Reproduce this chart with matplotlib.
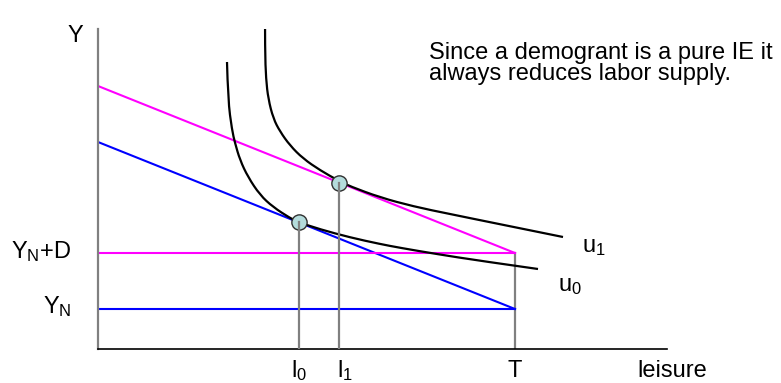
import matplotlib.pyplot as plt
import numpy as np
from matplotlib.path import Path
from matplotlib.patches import PathPatch

plt.rcParams['font.family'] = ['Liberation Sans', 'DejaVu Sans']
plt.rcParams['mathtext.fontset'] = 'custom'
plt.rcParams['mathtext.rm'] = 'Liberation Sans'
plt.rcParams['mathtext.it'] = 'Liberation Sans'

# budget constraint (units = leisure / income)
T = 417
y_n = 40
demogrant = 56
full_income = 207        # intercept of the original budget line
l0 = 201
l1 = 241

# indifference curves
u0_x = [129, 130, 134, 137, 142, 150, 162, 175, 192, 200, 222, 252, 282, 302, 339, 382, 440]
u0_y = [287, 249, 219, 206, 189, 172, 154, 142, 131, 127, 119.7, 111.6, 105, 101.2, 94.9, 88.2, 80]
u1_x = [167, 167, 168, 170.3, 175.3, 182, 192, 205, 222, 241, 252, 282, 315, 352, 465]
u1_y = [336, 299, 270, 250, 230.5, 217.5, 203.5, 190.5, 178.8, 168, 162.7, 151.6, 142.7, 134.9, 112]


def smooth_path(xs, ys):
    # quadratic segments through the midpoints, the read points act as control points
    pts = list(zip(xs, ys))
    verts = [pts[0]]
    codes = [Path.MOVETO]
    n = len(pts)
    for i in range(1, n - 1):
        if i < n - 2:
            end = ((pts[i][0] + pts[i + 1][0]) / 2, (pts[i][1] + pts[i + 1][1]) / 2)
        else:
            end = pts[-1]
        verts += [pts[i], end]
        codes += [Path.CURVE3, Path.CURVE3]
    return Path(verts, codes)


fig = plt.figure(figsize=(7.81, 3.83), dpi=100)
ax = fig.add_axes([98 / 781, 34 / 383, 569 / 781, 320 / 383])
ax.set_xlim(0, 569)
ax.set_ylim(0, 320)
for s in ['top', 'right']:
    ax.spines[s].set_visible(False)
ax.spines['left'].set_color('#808080')
ax.spines['left'].set_linewidth(1.6)
ax.spines['bottom'].set_color('black')
ax.spines['bottom'].set_linewidth(1.2)
ax.set_xticks([])
ax.set_yticks([])

# budget lines
bx = [0, T]
blue_y = [full_income, y_n]
mag_y = [full_income + demogrant, y_n + demogrant]
ax.plot(bx, blue_y, color='#0000ff', lw=1.5, zorder=2)
ax.plot(bx, [y_n, y_n], color='#0000ff', lw=1.5, zorder=2)
ax.plot(bx, mag_y, color='#ff00ff', lw=1.5, zorder=2)
ax.plot(bx, [y_n + demogrant, y_n + demogrant], color='#ff00ff', lw=1.5, zorder=2)

# indifference curves
for xs, ys in [(u0_x, u0_y), (u1_x, u1_y)]:
    ax.add_patch(PathPatch(smooth_path(xs, ys), fill=False, ec='black', lw=1.6,
                           capstyle='butt', zorder=3))

# optimum points
p0 = np.interp(l0, bx, blue_y)
p1 = np.interp(l1, bx, mag_y)
ax.plot([l0, l1], [p0, p1], 'o', ms=11, mfc='#b4dcdc', mec='#303030', mew=1, zorder=4)
ax.plot([l0, l0], [0, p0], color='#808080', lw=1.6, zorder=5)
ax.plot([l1, l1], [0, p1], color='#808080', lw=1.6, zorder=5)
ax.plot([T, T], [0, y_n + demogrant], color='#808080', lw=1.6, zorder=1)

fs = 17
ax.text(-23, 307, 'Y', fontsize=fs, ha='center', va='baseline')
ax.text(-27, 91, r'$Y_N$+D', fontsize=fs, ha='right', va='baseline')
ax.text(-27, 36, r'$Y_N$', fontsize=fs, ha='right', va='baseline')
ax.text(l0, -28, r'$l_0$', fontsize=fs, ha='center', va='baseline')
ax.text(l1 + 6, -28, r'$l_1$', fontsize=fs, ha='center', va='baseline')
ax.text(T, -28, 'T', fontsize=fs, ha='center', va='baseline')
ax.text(539, -28, 'leisure', fontsize=fs, ha='left', va='baseline')
ax.text(484, 97, r'$u_1$', fontsize=fs, ha='left', va='baseline')
ax.text(460, 58, r'$u_0$', fontsize=fs, ha='left', va='baseline')
ax.text(331, 290, 'Since a demogrant is a pure IE it', fontsize=fs, ha='left', va='baseline')
ax.text(331, 269, 'always reduces labor supply.', fontsize=fs, ha='left', va='baseline')

fig.savefig('out.png', dpi=100)
